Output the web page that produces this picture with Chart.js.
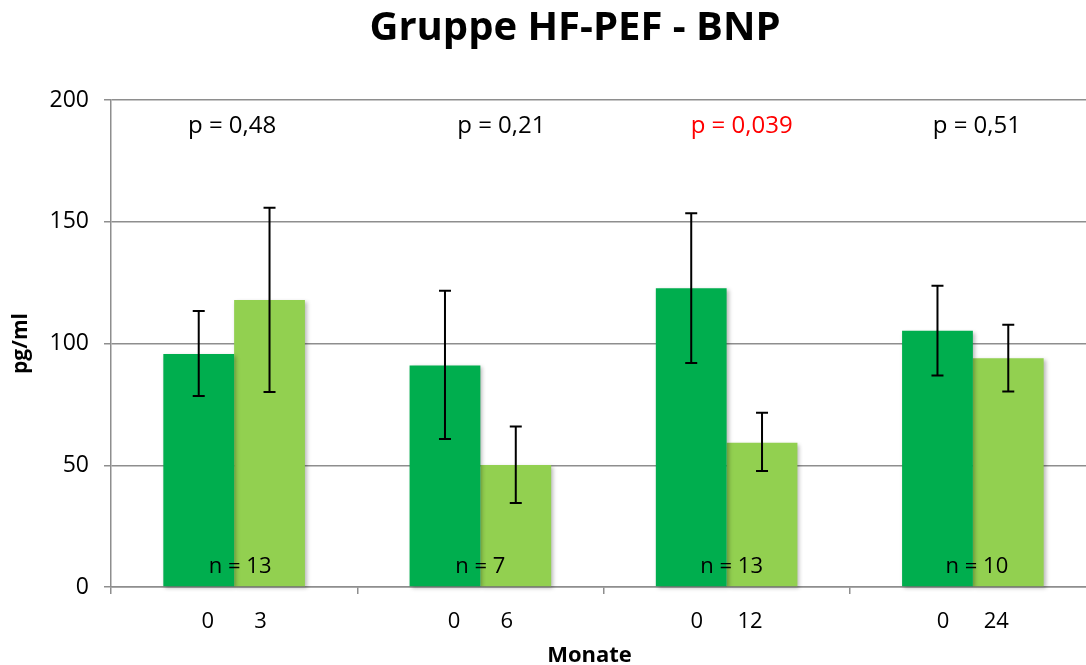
<!DOCTYPE html>
<html>
<head>
<meta charset="utf-8">
<title>Gruppe HF-PEF - BNP</title>
<script src="https://cdn.jsdelivr.net/npm/chart.js@4.4.1/dist/chart.umd.min.js"></script>
<style>
  html, body { margin: 0; padding: 0; background: #fff; overflow: hidden; }
  #wrap { width: 1096px; height: 665px; }
</style>
</head>
<body>
<div id="wrap"><canvas id="bnpChart" width="1096" height="665"></canvas></div>
<script>
// Months of the two measurements in each group
const monthsStart = [0, 0, 0, 0];
const monthsFollow = [3, 6, 12, 24];

// BNP means (pg/ml)
const bnpStart = [95.7, 91.0, 122.7, 105.2];
const bnpFollow = [117.9, 50.1, 59.2, 93.9];

// error bar ends
const startHigh = [113.3, 121.7, 153.5, 123.7];
const startLow = [78.4, 60.8, 92.0, 86.9];
const followHigh = [155.7, 65.9, 71.6, 107.7];
const followLow = [80.1, 34.5, 47.6, 80.3];

// annotations
const pValues = ['p = 0,48', 'p = 0,21', 'p = 0,039', 'p = 0,51'];
const pSignificant = [false, false, true, false];
const nCounts = [13, 7, 13, 10];

const yTicks = [0, 50, 100, 150, 200];

const FONT = "'Open Sans', 'DejaVu Sans', sans-serif";
const GRID = '#8e8e8e';

// the text boxes were placed by hand in the original, a bit off centre
const pShift = [-2, 21, 15, 4];
const nShift = [6, 0, 5, 4];

const labels = monthsStart.map((m, i) => {
    const gap = String(monthsFollow[i]).length > 1 ? 6 : 7;
    return `${m}${' '.repeat(gap)}${monthsFollow[i]}`;
});

// soft shadow under the bars
const barShadow = {
    id: 'barShadow',
    beforeDatasetDraw(chart) {
        const ctx = chart.ctx;
        ctx.save();
        ctx.shadowColor = 'rgba(0, 0, 0, 0.28)';
        ctx.shadowBlur = 4;
        ctx.shadowOffsetX = 2;
        ctx.shadowOffsetY = 2;
    },
    afterDatasetDraw(chart) {
        chart.ctx.restore();
    }
};

// title, error bars, p values, n labels and x axis title
const annotations = {
    id: 'annotations',
    afterDatasetsDraw(chart) {
        const ctx = chart.ctx;
        const y = chart.scales.y;
        const x = chart.scales.x;
        const area = chart.chartArea;
        const ends = [[startLow, startHigh], [followLow, followHigh]];

        ctx.save();
        ctx.strokeStyle = '#000';
        ctx.lineWidth = 2;
        ends.forEach(([low, high], d) => {
            chart.getDatasetMeta(d).data.forEach((bar, i) => {
                const top = y.getPixelForValue(high[i]);
                const bottom = y.getPixelForValue(low[i]);
                ctx.beginPath();
                ctx.moveTo(bar.x, top);
                ctx.lineTo(bar.x, bottom);
                ctx.moveTo(bar.x - 6, top);
                ctx.lineTo(bar.x + 6, top);
                ctx.moveTo(bar.x - 6, bottom);
                ctx.lineTo(bar.x + 6, bottom);
                ctx.stroke();
            });
        });

        ctx.textAlign = 'center';
        ctx.textBaseline = 'middle';
        labels.forEach((_, i) => {
            const cx = x.getPixelForValue(i);
            ctx.font = `24px ${FONT}`;
            ctx.fillStyle = pSignificant[i] ? '#ff0000' : '#000';
            ctx.fillText(pValues[i], cx + pShift[i], area.top + 26);
            ctx.font = `22px ${FONT}`;
            ctx.fillStyle = '#000';
            ctx.fillText(`n = ${nCounts[i]}`, cx + nShift[i], area.bottom - 20);
        });

        ctx.textBaseline = 'alphabetic';
        ctx.font = `bold 40px ${FONT}`;
        ctx.fillText('Gruppe HF-PEF - BNP', 575, 40);
        ctx.font = `bold 22px ${FONT}`;
        ctx.fillText('Monate', (area.left + area.right) / 2 - 14, 662);
        ctx.restore();
    }
};

const ctx = document.getElementById('bnpChart').getContext('2d');
new Chart(ctx, {
    type: 'bar',
    data: {
        labels: labels,
        datasets: [
            { label: 'Start', data: bnpStart, backgroundColor: '#00ae4e', clip: false },
            { label: 'Follow-up', data: bnpFollow, backgroundColor: '#92d050', clip: false }
        ]
    },
    options: {
        responsive: false,
        animation: false,
        devicePixelRatio: 1,
        layout: { padding: { top: 100 } },
        datasets: {
            bar: { categoryPercentage: 0.575, barPercentage: 1.0 }
        },
        plugins: {
            legend: { display: false },
            tooltip: { enabled: false },
            title: { display: false }
        },
        scales: {
            x: {
                grid: { drawOnChartArea: false, drawTicks: true, tickLength: 7, offset: true, color: GRID, lineWidth: 1.5 },
                border: { color: GRID, width: 1.5 },
                ticks: { color: '#000', font: { family: FONT, size: 22 }, padding: 15, maxRotation: 0 },
                afterFit(scale) { scale.height = 78; }
            },
            y: {
                min: 0,
                max: 200,
                afterBuildTicks(scale) { scale.ticks = yTicks.map(v => ({ value: v })); },
                grid: { color: GRID, lineWidth: 1.5, tickLength: 7 },
                border: { color: GRID, width: 1.5 },
                ticks: { color: '#000', font: { family: FONT, size: 23 }, padding: 15 },
                title: { display: true, text: 'pg/ml', color: '#000', font: { family: FONT, size: 21, weight: 'bold' }, padding: { top: 8, bottom: 0 } },
                afterFit(scale) { scale.width = 111; }
            }
        }
    },
    plugins: [barShadow, annotations]
});
</script>
</body>
</html>
